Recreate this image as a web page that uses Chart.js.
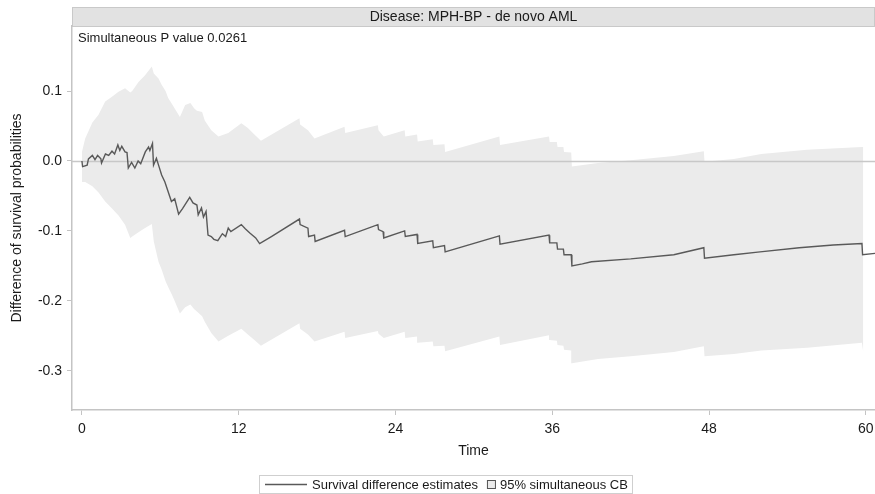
<!DOCTYPE html>
<html>
<head>
<meta charset="utf-8">
<script src="https://cdn.jsdelivr.net/npm/chart.js@4/dist/chart.umd.min.js"></script>
<style>
html,body{margin:0;padding:0;background:#fff;}
#wrap{width:875px;height:494px;position:relative;}
</style>
</head>
<body>
<div id="wrap"><canvas id="c" width="875" height="494"></canvas></div>
<script>
// ---- data ----
const panelTitle = 'Disease: MPH-BP - de novo AML';
const pValueText = 'Simultaneous P value 0.0261';
const xTitle = 'Time';
const yTitle = 'Difference of survival probabilities';
const legendLabels = ['Survival difference estimates', '95% simultaneous CB'];
const xTicks = [0, 12, 24, 36, 48, 60];
const yTicks = [-0.3, -0.2, -0.1, 0.0, 0.1];

const estTime = [0,0.05,0.4,0.5,0.8,1.0,1.2,1.45,1.5,1.8,2.05,2.3,2.5,2.75,2.9,3.05,3.3,3.45,3.55,3.8,4.05,4.3,4.5,4.85,5.1,5.2,5.4,5.48,5.7,5.9,6.1,6.35,6.6,6.85,7.1,7.4,7.7,8.25,8.5,8.8,8.9,9.15,9.3,9.5,9.65,9.9,10.1,10.4,10.75,11.0,11.2,11.4,12.2,12.5,12.85,13.3,13.6,14.5,16.65,16.7,17.3,17.35,17.8,17.85,20.1,20.15,22.65,22.7,23.05,23.1,24.7,24.75,25.65,25.7,26.85,26.9,27.75,27.8,31.95,32.0,35.75,35.8,36.35,36.4,36.85,36.9,37.45,37.5,38.3,39.0,42.0,45.3,47.6,47.65,49.9,51.9,54.9,57.5,59.7,59.75,60.7];
const estValue = [0.000,-0.008,-0.006,0.003,0.008,0.002,0.008,0.003,-0.003,0.010,0.008,0.014,0.010,0.023,0.015,0.021,0.013,0.012,-0.010,-0.002,-0.010,0.000,-0.004,0.013,0.020,0.015,0.025,-0.006,0.004,-0.008,-0.020,-0.030,-0.044,-0.058,-0.054,-0.076,-0.068,-0.052,-0.060,-0.063,-0.077,-0.067,-0.080,-0.072,-0.106,-0.108,-0.112,-0.114,-0.104,-0.108,-0.096,-0.101,-0.091,-0.097,-0.103,-0.110,-0.118,-0.108,-0.083,-0.091,-0.096,-0.108,-0.106,-0.115,-0.099,-0.108,-0.091,-0.098,-0.101,-0.110,-0.100,-0.108,-0.105,-0.118,-0.114,-0.124,-0.121,-0.130,-0.107,-0.119,-0.106,-0.117,-0.117,-0.126,-0.126,-0.134,-0.134,-0.150,-0.147,-0.144,-0.140,-0.134,-0.124,-0.139,-0.134,-0.130,-0.124,-0.120,-0.118,-0.134,-0.132];

const bandTime = [0,0.25,0.8,1.27,1.78,2.3,2.8,3.3,3.7,3.85,4.33,4.8,5.35,5.5,5.86,6.1,6.4,6.6,6.88,7.1,7.5,7.9,8.3,8.6,8.8,9.2,9.4,9.9,10.45,11.2,12.2,12.7,13.2,13.7,16.65,16.7,17.3,17.8,20.1,20.15,22.65,22.7,23.1,24.7,24.75,25.65,25.7,26.85,26.9,27.75,27.8,31.95,32.0,35.75,35.8,36.35,36.4,36.85,36.9,37.45,37.5,39.5,42.0,45.3,47.6,47.65,49.9,52.0,55.5,59.7,59.8];
const bandUpper = [0.013,0.032,0.055,0.066,0.085,0.092,0.099,0.104,0.098,0.100,0.113,0.122,0.135,0.125,0.118,0.109,0.100,0.090,0.082,0.075,0.063,0.080,0.083,0.075,0.072,0.070,0.058,0.044,0.035,0.040,0.054,0.047,0.038,0.029,0.061,0.052,0.044,0.032,0.049,0.040,0.051,0.044,0.035,0.044,0.035,0.038,0.028,0.031,0.023,0.024,0.013,0.035,0.023,0.035,0.027,0.027,0.020,0.020,0.013,0.012,-0.008,-0.003,0.001,0.007,0.014,-0.001,0.003,0.010,0.016,0.020,0.020];
const bandLower = [-0.030,-0.030,-0.036,-0.045,-0.058,-0.068,-0.078,-0.091,-0.110,-0.108,-0.102,-0.096,-0.090,-0.115,-0.144,-0.155,-0.172,-0.180,-0.191,-0.200,-0.218,-0.209,-0.205,-0.212,-0.215,-0.222,-0.230,-0.246,-0.258,-0.250,-0.240,-0.248,-0.256,-0.264,-0.232,-0.240,-0.248,-0.258,-0.244,-0.253,-0.243,-0.247,-0.253,-0.244,-0.253,-0.251,-0.260,-0.258,-0.265,-0.264,-0.272,-0.251,-0.263,-0.249,-0.256,-0.257,-0.263,-0.264,-0.270,-0.271,-0.289,-0.283,-0.279,-0.273,-0.265,-0.279,-0.276,-0.271,-0.267,-0.260,-0.273];

// ---- build chart ----
const toPts = (xs, ys) => xs.map((x, i) => ({x: x, y: ys[i]}));
const FONT = '"Liberation Sans", Arial, Helvetica, sans-serif';
const BAND = '#ebebeb';
const LINE = '#595959';

const decor = {
  id: 'decor',
  beforeDraw(chart) {
    const {ctx, chartArea: a} = chart;
    ctx.save();
    ctx.fillStyle = '#e2e2e2';
    ctx.fillRect(a.left, 7, a.right - a.left, a.top - 7);
    ctx.strokeStyle = '#c9c9c9';
    ctx.lineWidth = 1;
    ctx.strokeRect(a.left + 0.5, 7.5, a.right - a.left - 1, a.top - 7);
    ctx.fillStyle = '#1a1a1a';
    ctx.font = '14px ' + FONT;
    ctx.textAlign = 'center';
    ctx.textBaseline = 'middle';
    ctx.fillText(panelTitle, (a.left + a.right) / 2, (7 + a.top) / 2 + 0.5);
    ctx.restore();
  },
  beforeDatasetDraw(chart, args) {
    if (args.index !== 0) return;
    const {ctx, chartArea: a, scales} = chart;
    const y0 = Math.round(scales.y.getPixelForValue(0)) + 0.5;
    ctx.save();
    ctx.strokeStyle = '#c8c8c8';
    ctx.lineWidth = 1.5;
    ctx.beginPath();
    ctx.moveTo(a.left, y0);
    ctx.lineTo(a.right, y0);
    ctx.stroke();
    ctx.restore();
  },
  afterDraw(chart) {
    const {ctx, chartArea: a} = chart;
    ctx.save();
    ctx.font = '13px ' + FONT;
    ctx.fillStyle = '#1a1a1a';
    ctx.textAlign = 'left';
    ctx.textBaseline = 'alphabetic';
    ctx.fillText(pValueText, a.left + 6, a.top + 16);
    // legend
    const w1 = ctx.measureText(legendLabels[0]).width;
    const w2 = ctx.measureText(legendLabels[1]).width;
    const total = 6 + 42 + 5 + w1 + 9 + 9 + 4 + w2 + 4;
    const cx = 445;
    const bx = Math.round(cx - total / 2);
    const by = 475, bh = 18, my = by + bh / 2;
    ctx.strokeStyle = '#cfcfcf';
    ctx.lineWidth = 1;
    ctx.strokeRect(bx + 0.5, by + 0.5, Math.round(total), bh);
    let x = bx + 6;
    ctx.strokeStyle = LINE;
    ctx.lineWidth = 1.3;
    ctx.beginPath(); ctx.moveTo(x, my + 0.5); ctx.lineTo(x + 42, my + 0.5); ctx.stroke();
    x += 47;
    ctx.textBaseline = 'middle';
    ctx.fillStyle = '#1a1a1a';
    ctx.fillText(legendLabels[0], x, my + 1);
    x += w1 + 9;
    ctx.fillStyle = BAND;
    ctx.fillRect(x, my - 4, 9, 9);
    ctx.strokeStyle = '#555';
    ctx.lineWidth = 1;
    ctx.strokeRect(x + 0.5, my - 3.5, 8, 8);
    x += 13;
    ctx.fillStyle = '#1a1a1a';
    ctx.fillText(legendLabels[1], x, my + 1);
    ctx.restore();
  }
};

new Chart(document.getElementById('c'), {
  type: 'line',
  data: {
    datasets: [
      {label: legendLabels[0], data: toPts(estTime, estValue), fill: false,
       borderColor: LINE, borderWidth: 1.4, pointRadius: 0, tension: 0},
      {label: 'upper', data: toPts(bandTime, bandUpper), fill: '+1', backgroundColor: BAND,
       borderWidth: 0, borderColor: 'rgba(0,0,0,0)', pointRadius: 0, tension: 0},
      {label: 'lower', data: toPts(bandTime, bandLower), fill: false,
       borderWidth: 0, borderColor: 'rgba(0,0,0,0)', pointRadius: 0, tension: 0}
    ]
  },
  options: {
    responsive: false,
    animation: false,
    layout: {padding: {top: 26, bottom: 34, left: 0, right: 0}},
    plugins: {legend: {display: false}, tooltip: {enabled: false}, title: {display: false}},
    scales: {
      x: {
        type: 'linear', min: -0.76, max: 60.7,
        afterBuildTicks: s => { s.ticks = xTicks.map(v => ({value: v})); },
        afterFit: s => { s.height = 50; s.paddingRight = 0; s.paddingLeft = 0; },
        grid: {drawOnChartArea: false, tickLength: 5, color: '#c4c4c4'},
        border: {display: true, color: '#c4c4c4', width: 1.5},
        ticks: {font: {family: FONT, size: 14}, color: '#1a1a1a', padding: 6, maxRotation: 0,
                callback: v => String(v)},
        title: {display: true, text: xTitle, font: {family: FONT, size: 14}, color: '#1a1a1a',
                padding: {top: 0, bottom: 0}}
      },
      y: {
        type: 'linear', min: -0.356, max: 0.193,
        afterBuildTicks: s => { s.ticks = yTicks.map(v => ({value: v})); },
        afterFit: s => { s.width = 72; s.paddingTop = 0; s.paddingBottom = 0; },
        grid: {drawOnChartArea: false, tickLength: 5, color: '#c4c4c4'},
        border: {display: true, color: '#c4c4c4', width: 1.5},
        ticks: {font: {family: FONT, size: 14}, color: '#1a1a1a', padding: 5,
                callback: v => v.toFixed(1)},
        title: {display: true, text: yTitle, font: {family: FONT, size: 14}, color: '#1a1a1a',
                padding: {top: 9, bottom: 0}}
      }
    }
  },
  plugins: [decor]
});
</script>
</body>
</html>
